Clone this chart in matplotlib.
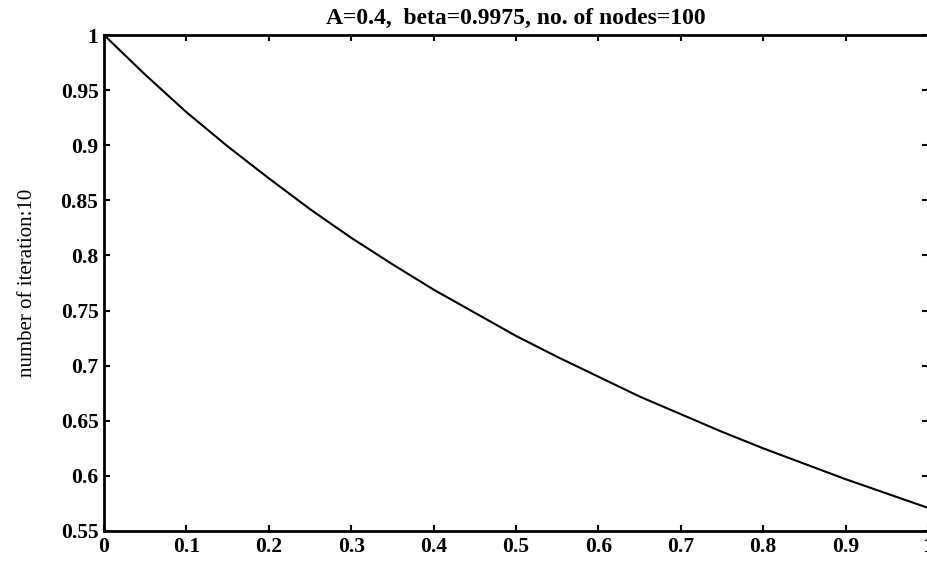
import matplotlib

matplotlib.use("Agg")
import matplotlib.pyplot as plt  # noqa: E402

# values
x_vals = [0.0, 0.05, 0.1, 0.15, 0.2, 0.25, 0.3, 0.35, 0.4, 0.45, 0.5,
          0.55, 0.6, 0.65, 0.7, 0.75, 0.8, 0.85, 0.9, 0.95, 1.0]
y_vals = [1.000, 0.964, 0.930, 0.899, 0.870, 0.842, 0.816, 0.792, 0.769, 0.748, 0.727,
          0.708, 0.690, 0.672, 0.656, 0.640, 0.625, 0.611, 0.597, 0.584, 0.571]
x_ticks = [0, 0.1, 0.2, 0.3, 0.4, 0.5, 0.6, 0.7, 0.8, 0.9, 1]
x_labels = ["0", "0.1", "0.2", "0.3", "0.4", "0.5", "0.6", "0.7", "0.8", "0.9", "1"]
y_ticks = [0.55, 0.6, 0.65, 0.7, 0.75, 0.8, 0.85, 0.9, 0.95, 1]
y_labels = ["0.55", "0.6", "0.65", "0.7", "0.75", "0.8", "0.85", "0.9", "0.95", "1"]

title = "A=0.4,  beta=0.9975, no. of nodes=100"
ylabel = "number of iteration:10"

plt.rcParams["font.family"] = ["Liberation Serif", "DejaVu Serif"]

W, H = 927, 561
fig = plt.figure(figsize=(W / 100, H / 100), dpi=100)
left, right, top, bottom = 104, 928, 35, 531
ax = fig.add_axes([left / W, 1 - bottom / H, (right - left) / W, (bottom - top) / H])

ax.plot(x_vals, y_vals, color="black", linewidth=1.5)
ax.set_xlim(0, 1)
ax.set_ylim(0.55, 1)

ax.set_xticks(x_ticks)
ax.set_xticklabels(x_labels, fontsize=15.5, fontweight="bold")
ax.set_yticks(y_ticks)
ax.set_yticklabels(y_labels, fontsize=15.5, fontweight="bold")
ax.tick_params(direction="in", length=4.5, width=1.5, top=True, right=True, pad=4)
ax.tick_params(axis="x", pad=4)
for sp in ax.spines.values():
    sp.set_linewidth(2.0)

ax.set_title(title, fontsize=17, fontweight="bold", pad=8)
ax.set_ylabel(ylabel, fontsize=15, labelpad=17)

fig.savefig("out.png", dpi=100)
plt.close(fig)
